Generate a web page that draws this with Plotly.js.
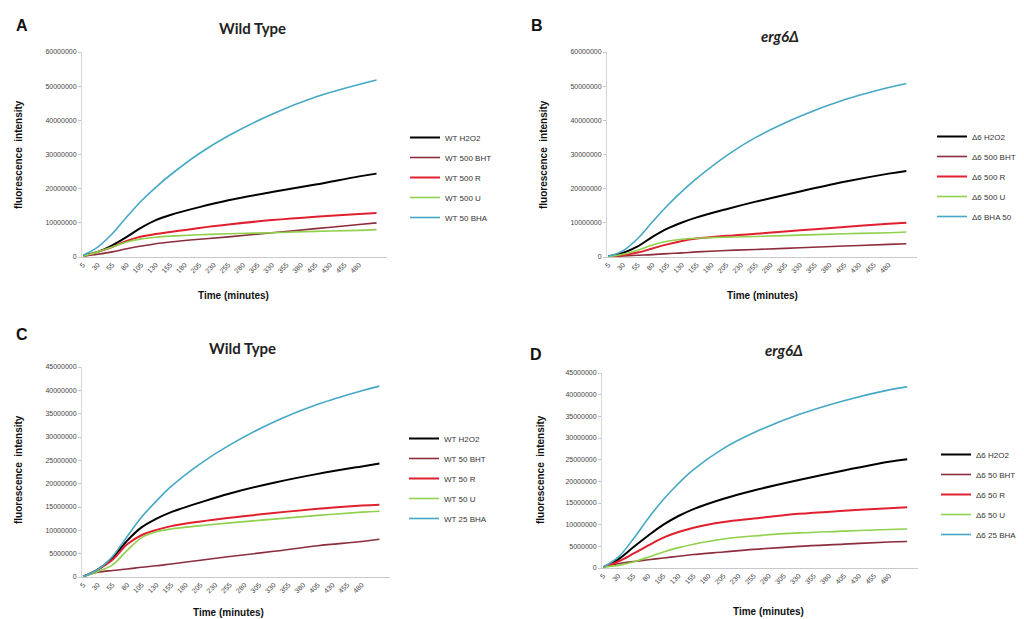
<!DOCTYPE html>
<html>
<head>
<meta charset="utf-8">
<script src="https://cdn.plot.ly/plotly-3.0.1.min.js"></script>
<style>html,body{margin:0;padding:0;background:#fff;}#chart{width:1024px;height:619px;}</style>
</head>
<body>
<div id="chart"></div>
<script>
// ---- data (fluorescence intensity in millions) ----
const timeMin = [5, 30, 55, 80, 105, 130, 155, 205, 255, 330, 405, 480, 510];
const tickTimes = [5, 30, 55, 80, 105, 130, 155, 180, 205, 230, 255, 280, 305, 330, 355, 380, 405, 430, 455, 480];
const UNIT = 1e6;

// Panel A - Wild Type
const namesA = ["WT H2O2", "WT 500 BHT", "WT 500 R", "WT 500 U", "WT 50 BHA"];
const A_H2O2 = [0.5, 1.5, 3.4, 5.9, 8.6, 10.8, 12.3, 14.6, 16.6, 19.0, 21.2, 23.6, 24.4];
const A_BHT  = [0.2, 0.8, 1.5, 2.4, 3.2, 3.9, 4.4, 5.2, 5.9, 7.1, 8.3, 9.5, 10.0];
const A_R    = [0.2, 1.5, 2.9, 4.7, 6.0, 6.7, 7.3, 8.5, 9.5, 10.8, 11.8, 12.6, 12.9];
const A_U    = [0.2, 1.5, 2.9, 4.4, 5.3, 5.8, 6.1, 6.5, 6.8, 7.1, 7.5, 7.8, 8.0];
const A_BHA  = [0.5, 2.9, 6.8, 11.7, 16.4, 20.4, 24.0, 30.3, 35.5, 41.8, 46.8, 50.5, 51.8];

// Panel B - erg6Δ
const namesB = ["Δ6 H2O2", "Δ6 500 BHT", "Δ6 500 R", "Δ6 500 U", "Δ6 BHA 50"];
const B_H2O2 = [0.2, 1.2, 3.1, 5.9, 8.3, 10.1, 11.6, 14.0, 16.2, 19.2, 22.0, 24.4, 25.2];
const B_BHT  = [0.1, 0.3, 0.5, 0.7, 1.0, 1.2, 1.5, 1.9, 2.2, 2.7, 3.2, 3.7, 3.9];
const B_R    = [0.1, 0.5, 1.3, 2.5, 3.7, 4.7, 5.4, 6.2, 6.8, 7.8, 8.8, 9.7, 10.0];
const B_U    = [0.1, 0.8, 2.0, 3.5, 4.6, 5.2, 5.5, 5.8, 6.0, 6.4, 6.8, 7.1, 7.3];
const B_BHA  = [0.2, 1.8, 5.4, 10.3, 15.0, 19.2, 23.0, 29.6, 35.0, 41.2, 46.0, 49.6, 50.8];

// Panel C - Wild Type
const namesC = ["WT H2O2", "WT 50 BHT", "WT 50 R", "WT 50 U", "WT 25 BHA"];
const C_H2O2 = [0.1, 1.6, 4.1, 7.8, 10.7, 12.5, 13.9, 16.0, 17.9, 20.2, 22.1, 23.7, 24.3];
const C_BHT  = [0.1, 1.0, 1.4, 1.7, 2.1, 2.4, 2.8, 3.6, 4.4, 5.5, 6.7, 7.6, 8.1];
const C_R    = [0.1, 1.6, 3.7, 7.0, 9.0, 10.1, 10.9, 11.9, 12.7, 13.7, 14.6, 15.3, 15.5];
const C_U    = [0.1, 1.2, 2.6, 5.7, 8.5, 9.7, 10.3, 11.0, 11.6, 12.4, 13.2, 13.9, 14.1];
const C_BHA  = [0.1, 1.6, 4.4, 8.7, 12.9, 16.3, 19.4, 24.3, 28.3, 33.2, 37.0, 39.9, 40.9];

// Panel D - erg6Δ
const namesD = ["Δ6 H2O2", "Δ6 50 BHT", "Δ6 50 R", "Δ6 50 U", "Δ6 25 BHA"];
const D_H2O2 = [0.2, 2.0, 4.8, 7.5, 10.0, 12.0, 13.6, 16.0, 17.9, 20.3, 22.5, 24.5, 25.1];
const D_BHT  = [0.2, 1.0, 1.5, 1.9, 2.3, 2.7, 3.1, 3.7, 4.3, 5.0, 5.5, 6.0, 6.1];
const D_R    = [0.2, 1.5, 3.3, 5.2, 7.0, 8.3, 9.3, 10.6, 11.4, 12.5, 13.2, 13.8, 14.0];
const D_U    = [0.2, 0.6, 1.4, 2.5, 3.7, 4.7, 5.5, 6.7, 7.4, 8.1, 8.5, 8.9, 9.0];
const D_BHA  = [0.2, 2.5, 6.7, 11.5, 15.8, 19.5, 22.7, 27.6, 31.2, 35.4, 38.6, 41.1, 41.8];

// ---- styles ----
const colors = ["#000000", "#8c2d3c", "#e0202e", "#8fd04c", "#45a8c4"];
const widths = [2, 1.6, 2, 1.6, 1.6];
const W = 1024, H = 619;
const px = v => v / W;
const py = v => 1 - v / H;

const panels = [
  {ax: "", names: namesA, series: [A_H2O2, A_BHT, A_R, A_U, A_BHA], legend: "legend"},
  {ax: "2", names: namesB, series: [B_H2O2, B_BHT, B_R, B_U, B_BHA], legend: "legend2"},
  {ax: "3", names: namesC, series: [C_H2O2, C_BHT, C_R, C_U, C_BHA], legend: "legend3"},
  {ax: "4", names: namesD, series: [D_H2O2, D_BHT, D_R, D_U, D_BHA], legend: "legend4"}
];

const traces = [];
panels.forEach((p, pi) => {
  p.series.forEach((s, i) => {
    traces.push({
      type: "scatter", mode: "lines",
      x: timeMin, y: s.map(v => v * UNIT),
      name: p.names[i],
      xaxis: "x" + p.ax, yaxis: "y" + p.ax,
      legend: p.legend,
      legendgroup: "p" + pi + "s" + i,
      line: {color: colors[i], width: widths[i], shape: "spline", smoothing: 1},
      hoverinfo: "skip"
    });
  });
});

const tickFont = {family: "Liberation Sans, Arial, sans-serif", size: 7, color: "#444"};
function xAxis(domain, anchor) {
  return {
    domain: domain, anchor: anchor, range: [3, 528],
    tickmode: "array", tickvals: tickTimes, ticktext: tickTimes.map(String),
    tickangle: -45, tickfont: tickFont, ticks: "", showgrid: false, zeroline: false,
    showline: true, linecolor: "#c8c8c8", linewidth: 1
  };
}
function yAxis(domain, anchor, max, dtick) {
  return {
    domain: domain, anchor: anchor, range: [0, max], dtick: dtick, tick0: 0,
    tickformat: "d", tickfont: tickFont, ticks: "outside", ticklen: 3, tickcolor: "#c8c8c8",
    showgrid: false, zeroline: false, showline: true, linecolor: "#d6d6d6", linewidth: 1
  };
}

const legendFont = {family: "Liberation Sans, Arial, sans-serif", size: 8, color: "#333"};
function leg(xpx, ypx) {
  return {x: px(xpx), y: py(ypx), xanchor: "left", yanchor: "top", font: legendFont,
          bgcolor: "rgba(0,0,0,0)", traceorder: "grouped", tracegroupgap: 1, itemwidth: 30};
}

const titleFont = {family: "Lato, Carlito, sans-serif", size: 15, color: "#222"};
const axTitleFont = {family: "Liberation Sans, Arial, sans-serif", size: 10, color: "#111"};
const letterFont = {family: "Liberation Sans, Arial, sans-serif", size: 16, color: "#111"};

function ann(text, x, y, font, extra) {
  return Object.assign({text: text, x: px(x), y: py(y), xref: "paper", yref: "paper",
    showarrow: false, font: font, xanchor: "center", yanchor: "middle"}, extra || {});
}

const annotations = [
  ann("<b>A</b>", 22, 25, letterFont),
  ann("<b>B</b>", 537, 25, letterFont),
  ann("<b>C</b>", 22, 334, letterFont),
  ann("<b>D</b>", 536, 354, letterFont),
  ann("<b>Wild Type</b>", 252, 28, titleFont),
  ann("<b><i>erg6Δ</i></b>", 780, 36, titleFont),
  ann("<b>Wild Type</b>", 242, 348, titleFont),
  ann("<b><i>erg6Δ</i></b>", 784, 350, titleFont),
  ann("<b>Time (minutes)</b>", 233, 295, axTitleFont),
  ann("<b>Time (minutes)</b>", 762, 295, axTitleFont),
  ann("<b>Time (minutes)</b>", 228, 612, axTitleFont),
  ann("<b>Time (minutes)</b>", 768, 611, axTitleFont),
  ann("<b>fluorescence  intensity</b>", 18, 155, axTitleFont, {textangle: -90}),
  ann("<b>fluorescence  intensity</b>", 543, 155, axTitleFont, {textangle: -90}),
  ann("<b>fluorescence  intensity</b>", 18, 470, axTitleFont, {textangle: -90}),
  ann("<b>fluorescence  intensity</b>", 540, 470, axTitleFont, {textangle: -90})
];

const layout = {
  width: W, height: H, margin: {l: 0, r: 0, t: 0, b: 0},
  paper_bgcolor: "#ffffff", plot_bgcolor: "#ffffff", showlegend: true,
  xaxis: xAxis([px(82), px(387)], "y"),
  yaxis: yAxis([py(257), py(52)], "x", 60e6, 10e6),
  xaxis2: xAxis([px(607), px(917)], "y2"),
  yaxis2: yAxis([py(257), py(52)], "x2", 60e6, 10e6),
  xaxis3: xAxis([px(82), px(390)], "y3"),
  yaxis3: yAxis([py(577), py(367)], "x3", 45e6, 5e6),
  xaxis4: xAxis([px(602), px(918)], "y4"),
  yaxis4: yAxis([py(568), py(373)], "x4", 45e6, 5e6),
  legend: leg(405, 123),
  legend2: leg(932, 122),
  legend3: leg(404, 424),
  legend4: leg(936, 440),
  annotations: annotations
};

Plotly.newPlot("chart", traces, layout, {staticPlot: true, displayModeBar: false});
</script>
</body>
</html>
